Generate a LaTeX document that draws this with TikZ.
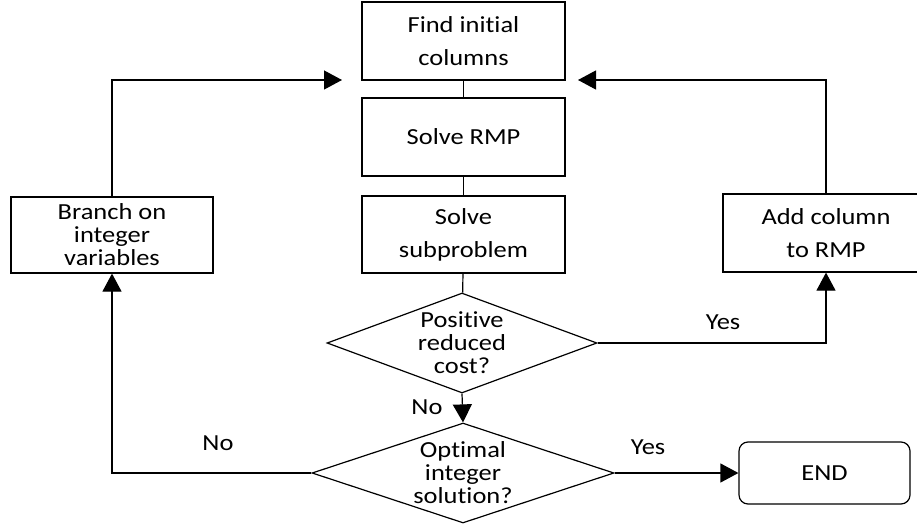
\documentclass[tikz,border=0pt]{standalone}
\usepackage{fontspec}
\setmainfont{Carlito}[Ligatures=CommonOff, FakeStretch=1.15]
\usetikzlibrary{shapes.geometric,arrows.meta}
\begin{document}
\begin{tikzpicture}[x=1pt,y=-1pt,
  line width=1.2pt,
  every node/.style={font=\fontsize{23}{23}\selectfont, align=center},
  proc/.style={draw, rectangle, inner sep=0pt},
  decision/.style={draw, diamond, inner sep=0pt},
  term/.style={draw, rectangle, rounded corners=9pt, inner sep=0pt},
  arr/.style={-{Triangle[length=18pt,width=19pt]}},
  lbl/.style={inner sep=0pt}]
\useasboundingbox (0,0) rectangle (917,526);

% main column
\node[proc, minimum width=203pt, minimum height=78pt] (init) at (463.5,41) {Find initial\\[10pt]columns};
\node[proc, minimum width=203pt, minimum height=78pt] (rmp) at (463.5,137) {Solve RMP};
\node[proc, minimum width=203pt, minimum height=77pt] (sub) at (463.5,234.5) {Solve\\[10pt]subproblem};

% decisions
\node[decision, minimum width=270pt, minimum height=100pt] (pos) at (462,343) {};
\node at (pos) {Positive\\reduced\\cost?};
\node[decision, minimum width=302pt, minimum height=100pt] (opt) at (463,473) {};
\node at (opt) {Optimal\\integer\\solution?};

% side boxes
\node[proc, minimum width=202pt, minimum height=76pt] (branch) at (112,235) {Branch on\\integer\\variables};
\node[proc, minimum width=206pt, minimum height=78pt] (add) at (826,233) {Add column\\[10pt]to RMP};
\node[term, minimum width=171pt, minimum height=62pt] (end) at (824.5,473) {END};

% arrow tips beside the top box
\coordinate (ltip) at (342,80);
\coordinate (rtip) at (578,80);

% connectors
\draw (init) -- (rmp);
\draw (rmp) -- (sub);
\draw (sub) -- (pos);
\draw[arr] (pos.south) -- (opt.north);
\draw[arr] (pos.east) -| (add.south);
\draw[arr] (add.north) |- (rtip);
\draw[arr] (opt.west) -| (branch.south);
\draw[arr] (branch.north) |- (ltip);
\draw[arr] (opt.east) -- (end.west);

% labels
\node[lbl] at (427,407) {No};
\node[lbl] at (723,322) {Yes};
\node[lbl] at (218,443) {No};
\node[lbl] at (648,447) {Yes};
\end{tikzpicture}
\end{document}
